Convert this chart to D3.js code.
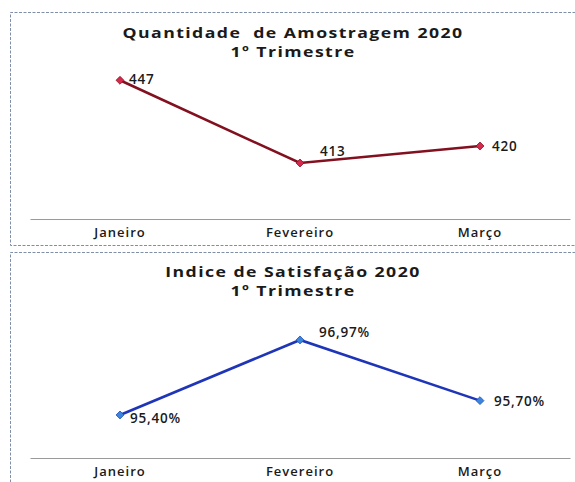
<!DOCTYPE html>
<html>
<head>
<meta charset="utf-8">
<script src="https://cdn.jsdelivr.net/npm/d3@7"></script>
<style>
  body { margin: 0; background: #fff; }
  text { font-family: "Open Sans", "DejaVu Sans", sans-serif; fill: #1a1a1a; }
</style>
</head>
<body>
<svg id="chart"></svg>
<script>
// 1: DATA
const months = ["Janeiro", "Fevereiro", "Março"];
const amostragem = [447, 413, 420];
const satisfacao = [95.40, 96.97, 95.70];
const titles1 = ["Quantidade\u00a0 de Amostragem 2020", "1º Trimestre"];
const titles2 = ["Indice de Satisfação 2020", "1º Trimestre"];

const W = 575, H = 482;
const svg = d3.select("#chart").attr("width", W).attr("height", H);

// panel frames (dashed, like the scanned borders)
function frame(y0, y1) {
    svg.append("path")
        .attr("d", `M${W + 5},${y0} H10.5 V${y1}` + (y1 < H ? ` H${W + 5}` : ""))
        .attr("fill", "none")
        .attr("stroke", "#7f8fa8")
        .attr("stroke-width", 1)
        .attr("stroke-dasharray", "3,1.5");
}
frame(12.5, 245.5);
frame(252.5, H + 5);

// shared x scale
const x = d3.scaleBand().domain(months).range([30, 570]);
const cx = d => x(d) + x.bandwidth() / 2;

function drawPanel(opts) {
    const g = svg.append("g");

    // titles (wide, scan-like lettering)
    g.append("g")
        .attr("transform", `translate(293,0) scale(1.18,1)`)
        .selectAll(".title")
        .data(opts.titles)
        .join("text")
        .attr("class", "title")
        .attr("x", 0)
        .attr("y", (d, i) => opts.titleY + i * 19)
        .attr("text-anchor", "middle")
        .attr("font-size", 15)
        .attr("font-weight", 700)
        .attr("letter-spacing", 1.2)
        .text(d => d);

    // axis baseline
    const axis = g.append("g")
        .attr("transform", `translate(0,${opts.axisY})`)
        .call(d3.axisBottom(x).tickSize(0).tickPadding(9));
    axis.select(".domain").attr("stroke", "#9a9a9a").attr("stroke-width", 1.2);
    axis.selectAll("text")
        .attr("font-size", 13)
        .attr("font-weight", 600)
        .attr("letter-spacing", 1)
        .attr("font-family", "'Open Sans', sans-serif")
        .attr("fill", "#1a1a1a");

    const data = months.map((m, i) => ({ m, v: opts.values[i] }));

    const line = d3.line()
        .x(d => cx(d.m))
        .y(d => opts.y(d.v));

    g.append("path")
        .datum(data)
        .attr("fill", "none")
        .attr("stroke", opts.lineColor)
        .attr("stroke-width", 2.6)
        .attr("d", line);

    g.selectAll(".pt")
        .data(data)
        .join("path")
        .attr("class", "pt")
        .attr("transform", d => `translate(${cx(d.m)},${opts.y(d.v)})`)
        .attr("d", d3.symbol(d3.symbolDiamond2, 40))
        .attr("fill", opts.markColor)
        .attr("stroke", opts.markStroke)
        .attr("stroke-width", 0.8);

    g.selectAll(".lbl")
        .data(data)
        .join("text")
        .attr("class", "lbl")
        .attr("x", (d, i) => cx(d.m) + opts.labelDx[i])
        .attr("y", (d, i) => opts.y(d.v) + opts.labelDy[i])
        .attr("font-size", 13.5)
        .attr("font-weight", 600)
        .attr("letter-spacing", 0.8)
        .text(d => opts.format(d.v));
}

// 2: TOP PANEL
drawPanel({
    titles: titles1,
    titleY: 38,
    axisY: 219,
    values: amostragem,
    y: d3.scaleLinear().domain([390, 450]).range([219, 73]),
    lineColor: "#82101f",
    markColor: "#d42a4c",
    markStroke: "#8c1026",
    labelDx: [9, 20, 12],
    labelDy: [4, -7, 5],
    format: d => d3.format("d")(d)
});

// 3: BOTTOM PANEL
drawPanel({
    titles: titles2,
    titleY: 277,
    axisY: 458,
    values: satisfacao,
    y: d3.scaleLinear().domain([94.5, 97]).range([458, 338.5]),
    lineColor: "#1f35b8",
    markColor: "#3b86dc",
    markStroke: "#1f4fb8",
    labelDx: [10, 19, 14],
    labelDy: [8, -3, 5],
    format: d => d.toFixed(2).replace(".", ",") + "%"
});
</script>
</body>
</html>
